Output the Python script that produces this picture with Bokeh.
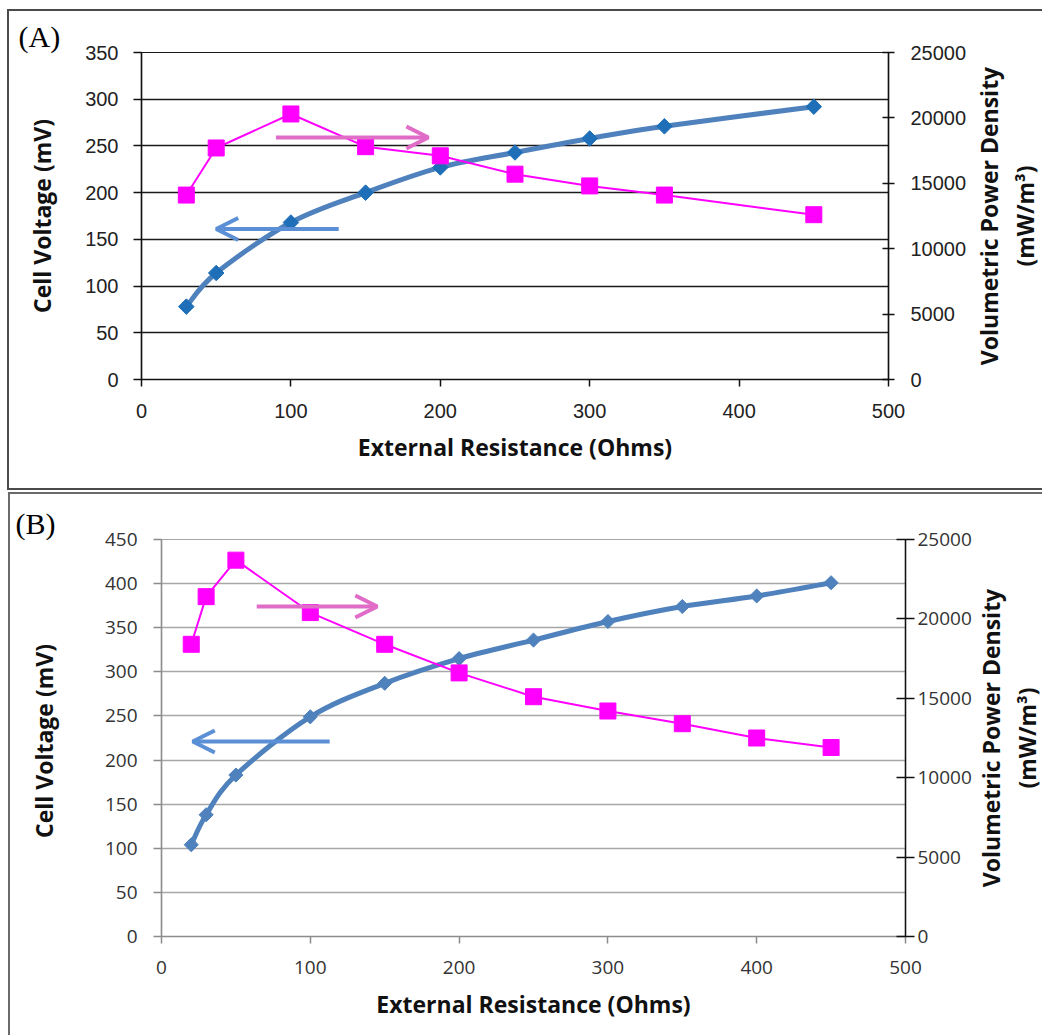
import numpy as np
from bokeh.plotting import figure
from bokeh.layouts import column, row
from bokeh.models import Range1d, LinearAxis, FixedTicker, Arrow, OpenHead
from bokeh.embed import file_html
from bokeh.resources import INLINE

# ---------------- data ----------------
resistance_a = [30, 50, 100, 150, 200, 250, 300, 350, 450]
voltage_a = [78, 114, 168, 200, 227, 243, 258, 271, 292]
power_a = [14100, 17700, 20300, 17800, 17100, 15700, 14800, 14100, 12600]

resistance_b = [20, 30, 50, 100, 150, 200, 250, 300, 350, 400, 450]
voltage_b = [104, 138, 183, 249, 287, 315, 336, 357, 374, 386, 401]
power_b = [18400, 21400, 23700, 20400, 18400, 16600, 15100, 14200, 13400, 12500, 11900]

x_ticks = [0, 100, 200, 300, 400, 500]
volt_ticks_a = [0, 50, 100, 150, 200, 250, 300, 350]
volt_ticks_b = [0, 50, 100, 150, 200, 250, 300, 350, 400, 450]
power_ticks = [0, 5000, 10000, 15000, 20000, 25000]

x_title = "External Resistance (Ohms)"
y_title_a = "Cell Voltage (mV)"
y_title_b = "Cell  Voltage (mV)"
right_title = "Volumetric Power Density\n(mW/m\u00b3)"

# arrows (in left-axis data units): x_start, x_end, y
pink_arrow_a = (90, 192, 259)
blue_arrow_a = (132, 50, 161)
pink_arrow_b = (64, 145, 374)
blue_arrow_b = (113, 21, 221)

TITLE_FONT = "Open Sans"
TITLE_SIZE = "23px"


def smooth_segments(xs, ys):
    n = len(xs)
    d = dict(x0=[], y0=[], x1=[], y1=[], cx0=[], cy0=[], cx1=[], cy1=[])
    for i in range(n - 1):
        i0 = max(i - 1, 0)
        i3 = min(i + 2, n - 1)
        d["x0"].append(xs[i]); d["y0"].append(ys[i])
        d["x1"].append(xs[i + 1]); d["y1"].append(ys[i + 1])
        d["cx0"].append(xs[i] + (xs[i + 1] - xs[i0]) / 6.0)
        d["cy0"].append(ys[i] + (ys[i + 1] - ys[i0]) / 6.0)
        d["cx1"].append(xs[i + 1] - (xs[i3] - xs[i]) / 6.0)
        d["cy1"].append(ys[i + 1] - (ys[i3] - ys[i]) / 6.0)
    return d


def style_axis(ax, cfg, tick_out, tick_in, standoff, col):
    ax.axis_line_color = col
    ax.axis_line_width = 1.5
    ax.major_tick_line_color = col
    ax.major_tick_line_width = 1.5
    ax.major_tick_out = tick_out
    ax.major_tick_in = tick_in
    ax.minor_tick_out = 0
    ax.minor_tick_in = 0
    ax.major_label_standoff = standoff
    ax.major_label_text_font = cfg["tick_font"]
    ax.major_label_text_font_size = cfg["tick_size"]
    ax.major_label_text_color = cfg["tick_col"]
    ax.axis_label_text_font = TITLE_FONT
    ax.axis_label_text_font_style = "bold"
    ax.axis_label_text_font_size = TITLE_SIZE
    ax.axis_label_text_color = "#111111"


def no_align(p):
    try:
        p.frame_align = False
    except Exception:
        pass


def make_panel(cfg):
    W, H = cfg["W"], cfg["H"]
    fl, fr, ft, fb = cfg["frame"]
    p = figure(width=W, height=H, output_backend="svg", toolbar_location=None,
               x_range=Range1d(0, 500), y_range=Range1d(0, cfg["vmax"]),
               min_border_left=fl, min_border_right=W - fr,
               min_border_top=ft, min_border_bottom=H - fb)
    no_align(p)
    p.outline_line_color = cfg["grid_col"]
    p.outline_line_width = 1.2
    p.background_fill_color = "white"
    p.border_fill_color = "white"
    p.extra_y_ranges = {"pow": Range1d(0, 25000)}

    p.title.text = cfg["tag"]
    p.title.align = "left"
    p.title.offset = cfg["tag_offset"]
    p.title.standoff = 0
    p.title.text_font = "Liberation Serif"
    p.title.text_font_style = "normal"
    p.title.text_font_size = "30px"
    p.title.text_color = "#000000"

    xa = p.xaxis[0]
    xa.ticker = FixedTicker(ticks=x_ticks)
    style_axis(xa, cfg, 7, 0, 17, cfg["axis_col"])
    xa.axis_label = x_title
    xa.axis_label_standoff = cfg["xtitle_standoff"]

    ya = p.yaxis[0]
    ya.ticker = FixedTicker(ticks=cfg["vticks"])
    style_axis(ya, cfg, 8, 0, cfg["left_standoff"], cfg["axis_col"])
    ya.axis_label = cfg["ytitle"]
    ya.axis_label_standoff = cfg["ytitle_standoff"]

    ra = LinearAxis(y_range_name="pow", ticker=FixedTicker(ticks=power_ticks))
    style_axis(ra, cfg, cfg["rtick"], cfg["rtick"], cfg["right_standoff"], "#111111")
    p.add_layout(ra, "right")

    p.xgrid.grid_line_color = None
    p.ygrid.ticker = FixedTicker(ticks=cfg["vticks"])
    p.ygrid.grid_line_color = cfg["grid_col"]
    p.ygrid.grid_line_width = 1.5

    # smoothed voltage line
    seg = smooth_segments(cfg["res"], cfg["volt"])
    p.bezier(x0=seg["x0"], y0=seg["y0"], x1=seg["x1"], y1=seg["y1"],
             cx0=seg["cx0"], cy0=seg["cy0"], cx1=seg["cx1"], cy1=seg["cy1"],
             line_color="#4F81BD", line_width=5)
    p.scatter(cfg["res"], cfg["volt"], marker="square", angle=np.pi / 4,
              size=cfg["dsize"], fill_color=cfg["dcol"], line_color=cfg["dcol"])

    # power line
    p.line(cfg["res"], cfg["pow"], y_range_name="pow", line_color="#FF00FF", line_width=2)
    p.scatter(cfg["res"], cfg["pow"], y_range_name="pow", marker="square", size=16,
              fill_color="#FF00FF", line_color="#FF00FF")

    # arrows
    pa = cfg["pink_arrow"]
    p.add_layout(Arrow(x_start=pa[0], y_start=pa[2], x_end=pa[1], y_end=pa[2],
                       line_color="#E06CC8", line_width=4,
                       end=OpenHead(size=22, line_color="#E06CC8", line_width=4)))
    ba = cfg["blue_arrow"]
    p.add_layout(Arrow(x_start=ba[0], y_start=ba[2], x_end=ba[1], y_end=ba[2],
                       line_color="#5B8FD6", line_width=4,
                       end=OpenHead(size=22, line_color="#5B8FD6", line_width=4)))

    # narrow companion figure carrying the right-hand title (reads bottom-to-top)
    TW = cfg["TW"]
    t = figure(width=TW, height=H, output_backend="svg", toolbar_location=None,
               x_range=Range1d(0, 1), y_range=Range1d(0, 1), x_axis_location=None,
               min_border_left=TW - 3, min_border_right=0,
               min_border_top=ft, min_border_bottom=H - fb)
    no_align(t)
    t.outline_line_color = None
    t.background_fill_color = "white"
    t.border_fill_color = "white"
    t.grid.grid_line_color = None
    ta = t.yaxis[0]
    ta.ticker = FixedTicker(ticks=[])
    ta.axis_line_color = None
    ta.major_tick_line_color = None
    ta.minor_tick_line_color = None
    ta.major_label_standoff = 0
    ta.major_label_text_font_size = "1px"
    ta.axis_label = right_title
    ta.axis_label_standoff = 0
    ta.axis_label_text_font = TITLE_FONT
    ta.axis_label_text_font_style = "bold"
    ta.axis_label_text_font_size = TITLE_SIZE
    ta.axis_label_text_line_height = 1.1
    ta.axis_label_text_color = "#111111"
    t.line([0, 1], [0.5, 0.5], line_alpha=0)

    return row(p, t, spacing=0, margin=cfg["margin"], styles=cfg["styles"])


# panel A: content origin on the page at (9, 11)
cfg_a = dict(W=961, TW=72, H=477, frame=(132, 879, 41, 368), margin=(9, 0, 0, 7),
             styles={"border-left": "2px solid #4a4a4a", "border-top": "2px solid #4a4a4a",
                     "border-bottom": "2px solid #4a4a4a"},
             vmax=350, vticks=volt_ticks_a,
             res=resistance_a, volt=voltage_a, pow=power_a,
             tick_font="Liberation Sans", tick_size="20px", tick_col="#222222",
             axis_col="#111111", grid_col="#1a1a1a", left_standoff=15, right_standoff=16,
             rtick=6, dsize=11, dcol="#1F6FB8",
             pink_arrow=pink_arrow_a, blue_arrow=blue_arrow_a,
             xtitle_standoff=10, ytitle=y_title_a, ytitle_standoff=24,
             tag="(A)", tag_offset=-123)

# panel B: content origin on the page at (10, 494)
cfg_b = dict(W=964, TW=68, H=541, frame=(151, 897, 45, 442), margin=(2, 0, 0, 8),
             styles={"border-left": "2px solid #6a6a6a", "border-top": "2px solid #6a6a6a"},
             vmax=450, vticks=volt_ticks_b,
             res=resistance_b, volt=voltage_b, pow=power_b,
             tick_font="Open Sans", tick_size="19px", tick_col="#333333",
             axis_col="#8c8c8c", grid_col="#a6a6a6", left_standoff=16, right_standoff=3,
             rtick=9, dsize=10, dcol="#4F81BD",
             pink_arrow=pink_arrow_b, blue_arrow=blue_arrow_b,
             xtitle_standoff=11, ytitle=y_title_b, ytitle_standoff=42,
             tag="(B)", tag_offset=-146)

panel_a = make_panel(cfg_a)
panel_b = make_panel(cfg_b)
layout = column(panel_a, panel_b, spacing=0)

open("out.html", "w").write(file_html(layout, INLINE))
